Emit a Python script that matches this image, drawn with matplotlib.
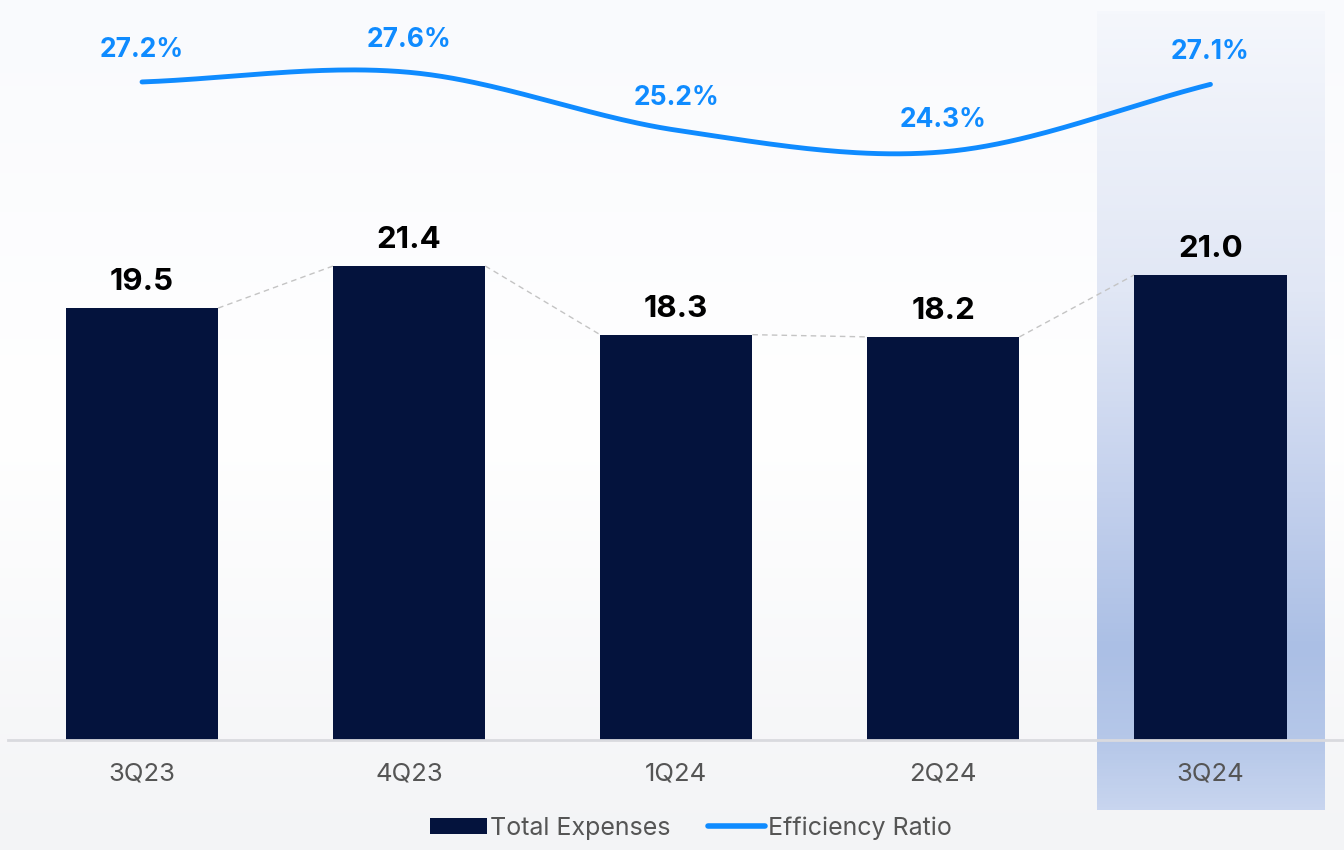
import matplotlib.pyplot as plt
import numpy as np
from matplotlib.colors import LinearSegmentedColormap
from matplotlib.lines import Line2D
from matplotlib.patches import Patch

plt.rcParams['font.family'] = ['Inter', 'DejaVu Sans']

# data
quarters = ['3Q23', '4Q23', '1Q24', '2Q24', '3Q24']
total_expenses = [19.5, 21.4, 18.3, 18.2, 21.0]
efficiency_ratio = [27.2, 27.6, 25.2, 24.3, 27.1]
highlight_idx = 4

NAVY = '#04133d'
BLUE = '#0f8bff'
GRAY_TXT = '#555555'

W, H = 1344, 850
fig = plt.figure(figsize=(W / 100, H / 100), dpi=100)

# soft page background
bg = fig.add_axes([0, 0, 1, 1], zorder=0)
bg.axis('off')
bg_cmap = LinearSegmentedColormap.from_list('bg', ['#f9fafd', '#ffffff', '#f3f4f6'])
bg.imshow(np.linspace(0, 1, 256).reshape(-1, 1), cmap=bg_cmap,
          extent=[0, 1, 0, 1], aspect='auto')
bg.set_xlim(0, 1)
bg.set_ylim(0, 1)

# main axes (bars)
ax = fig.add_axes([0.0063, 0.1294, 0.9937, 0.8706], zorder=1)
ax.patch.set_alpha(0)
x = np.arange(len(quarters))
bar_w = 0.57

# highlight band behind last quarter
band_cmap = LinearSegmentedColormap.from_list(
    'band', [(0.0, '#f5f7fc'), (0.35, '#e1e7f5'), (0.6, '#c4d1ed'),
             (0.8, '#abbfe5'), (0.92, '#b6c8e9'), (1.0, '#c8d5ef')])
ax.imshow(np.linspace(0, 1, 256).reshape(-1, 1), cmap=band_cmap,
          extent=[highlight_idx - 0.425, highlight_idx + 0.425, -3.16, 32.87],
          aspect='auto', zorder=0, clip_on=False)

ax.bar(x, total_expenses, width=bar_w, color=NAVY, zorder=3)

for i, v in enumerate(total_expenses):
    ax.text(i, v + 0.8, f'{v:.1f}', ha='center', va='baseline',
            fontsize=22.5, fontweight='bold', color='black', zorder=4)

# dashed connectors between bar tops
for i in range(len(total_expenses) - 1):
    ax.plot([i + bar_w / 2, i + 1 - bar_w / 2],
            [total_expenses[i], total_expenses[i + 1]],
            ls=(0, (4, 3)), color='#c4c4c4', lw=1, zorder=2)

ax.set_xlim(-0.5, 4.5)
ax.set_ylim(0, 33.41)
ax.set_xticks(x, quarters)
ax.tick_params(axis='x', length=0, pad=16, labelsize=18.5, labelcolor=GRAY_TXT)
ax.set_yticks([])
for side in ['top', 'right', 'left']:
    ax.spines[side].set_visible(False)
ax.spines['bottom'].set_color('#d9dadf')
ax.spines['bottom'].set_linewidth(2)
ax.spines['bottom'].set_zorder(5)

# efficiency ratio line on twin axis, smooth curve through the points
ax2 = ax.twinx()
ax2.set_ylim(-0.1, 30.6)
ax2.axis('off')

ys = np.array(efficiency_ratio)
pts = np.r_[2 * ys[0] - ys[1], ys, 2 * ys[-1] - ys[-2]]
t = np.linspace(0, 1, 50)
cx, cy = [], []
for i in range(len(ys) - 1):
    p0, p1, p2, p3 = pts[i:i + 4]
    m1 = (p2 - p0) / 2
    m2 = (p3 - p1) / 2
    h00 = 2 * t**3 - 3 * t**2 + 1
    h10 = t**3 - 2 * t**2 + t
    h01 = -2 * t**3 + 3 * t**2
    h11 = t**3 - t**2
    cx.extend(i + t)
    cy.extend(h00 * p1 + h10 * m1 + h01 * p2 + h11 * m2)
ax2.plot(cx, cy, color=BLUE, lw=3.5, solid_capstyle='round', zorder=4)

for i, v in enumerate(efficiency_ratio):
    ax2.text(i, v + 1.05, f'{v:.1f}%', ha='center', va='baseline',
             fontsize=19, fontweight='bold', color=BLUE)

# legend
handles = [Patch(facecolor=NAVY, edgecolor='none'),
           Line2D([], [], color=BLUE, lw=4, solid_capstyle='round')]
fig.legend(handles, ['Total Expenses', 'Efficiency Ratio'],
           loc='center', bbox_to_anchor=(0.514, 0.026), ncol=2, frameon=False,
           fontsize=18, labelcolor=GRAY_TXT, handlelength=2.3,
           handleheight=0.6, handletextpad=0.1, columnspacing=1.5)

plt.savefig('out.png', dpi=100)
